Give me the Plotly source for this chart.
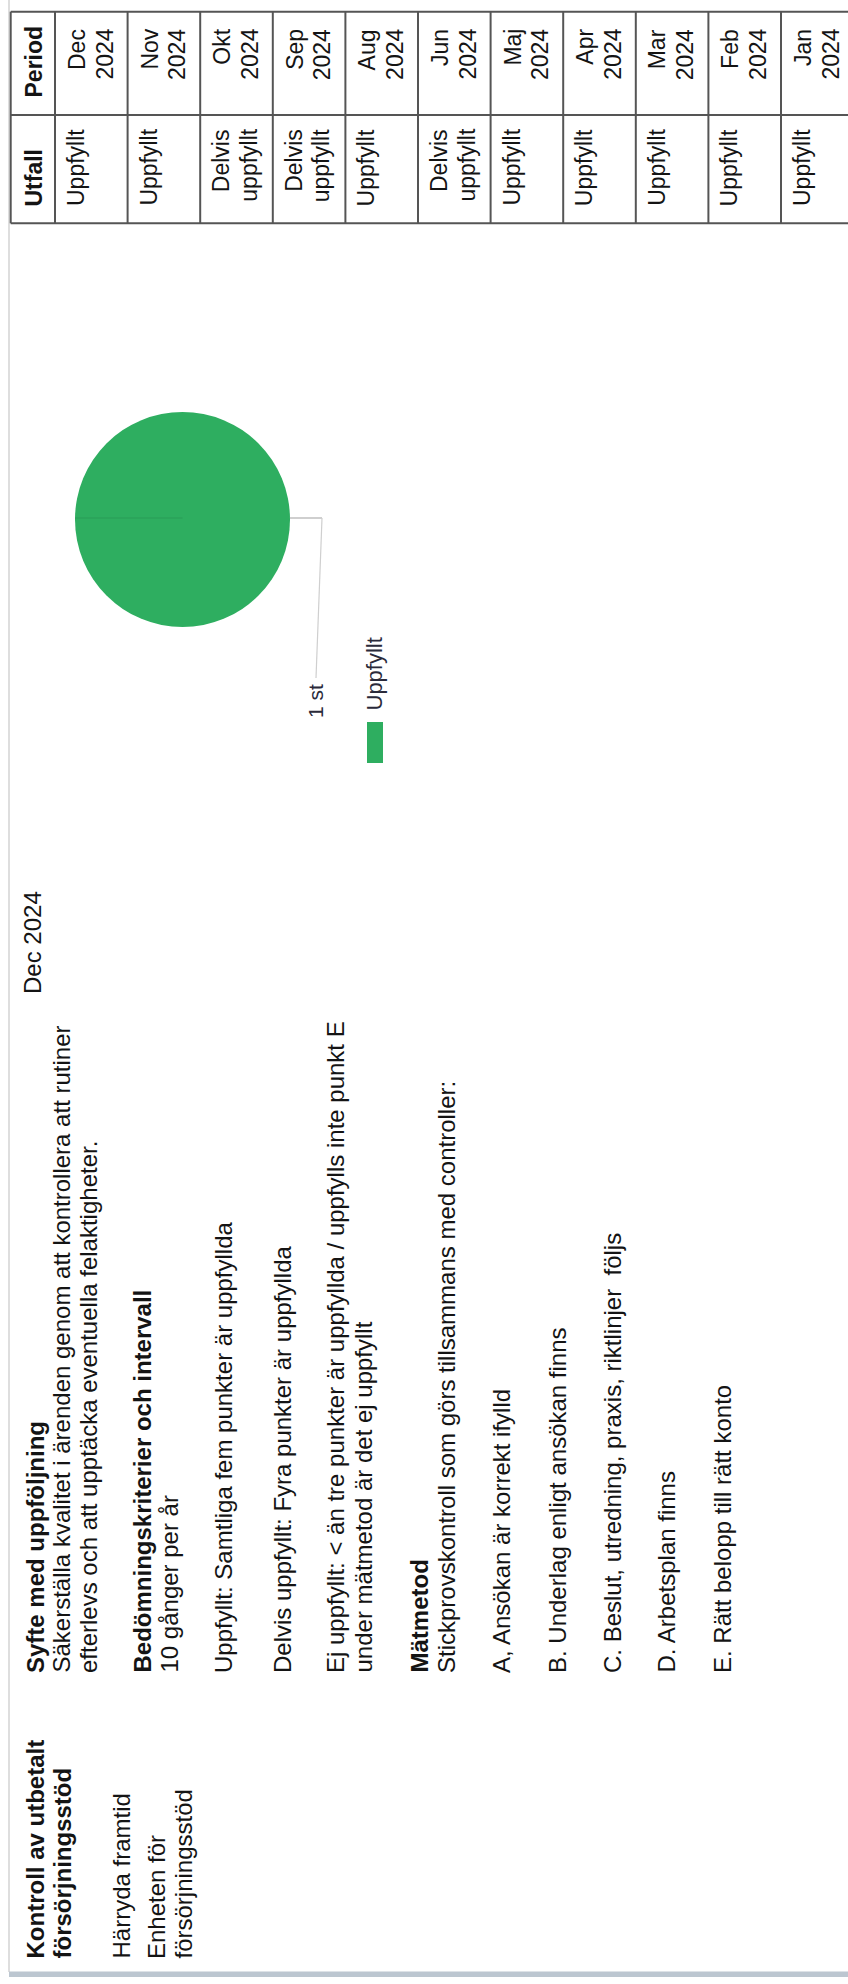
import plotly.graph_objects as go

# ---- data -------------------------------------------------------------
title_lines = ["Kontroll av utbetalt", "försörjningsstöd"]
org_lines = ["Härryda framtid", "Enheten för", "försörjningsstöd"]

# (text, bold) for the description column
desc_lines = [
    ("Syfte med uppföljning", True),
    ("Säkerställa kvalitet i ärenden genom att kontrollera att rutiner", False),
    ("efterlevs och att upptäcka eventuella felaktigheter.", False),
    ("Bedömningskriterier och intervall", True),
    ("10 gånger per år", False),
    ("Uppfyllt: Samtliga fem punkter är uppfyllda", False),
    ("Delvis uppfyllt: Fyra punkter är uppfyllda", False),
    ("Ej uppfyllt: &lt; än tre punkter är uppfyllda / uppfylls inte punkt E", False),
    ("under mätmetod är det ej uppfyllt", False),
    ("Mätmetod", True),
    ("Stickprovskontroll som görs tillsammans med controller:", False),
    ("A, Ansökan är korrekt ifylld", False),
    ("B. Underlag enligt ansökan finns", False),
    ("C. Beslut, utredning, praxis, riktlinjer\u00a0 följs", False),
    ("D. Arbetsplan finns", False),
    ("E. Rätt belopp till rätt konto", False),
]

chart_period = "Dec 2024"
pie_labels = ["Uppfyllt"]
pie_values = [1]
pie_colors = ["#2eae60"]
unit = "st"

periods = ["Dec 2024", "Nov 2024", "Okt 2024", "Sep 2024", "Aug 2024",
           "Jun 2024", "Maj 2024", "Apr 2024", "Mar 2024", "Feb 2024",
           "Jan 2024"]
outcomes = ["Uppfyllt", "Uppfyllt", "Delvis uppfyllt", "Delvis uppfyllt",
            "Uppfyllt", "Delvis uppfyllt", "Uppfyllt", "Uppfyllt",
            "Uppfyllt", "Uppfyllt", "Uppfyllt"]
table_headers = ["Utfall", "Period"]

# ---- page geometry (pixels, page is drawn turned a quarter turn) ------
W, H = 848, 1984
FONT = "Liberation Sans, Arial, Helvetica, sans-serif"
INK = "#141414"


def px(x):
    return x / W


def py(y):
    return 1 - y / H


annotations = []
shapes = []


def vtext(text, cx, y, anchor="bottom", size=24, bold=False, color=INK):
    if bold:
        text = "<b>" + text + "</b>"
    annotations.append(dict(
        text=text, x=px(cx), y=py(y), xref="paper", yref="paper",
        xanchor="center", yanchor=anchor, textangle=-90, showarrow=False,
        borderpad=0, font=dict(family=FONT, size=size, color=color)))


def line(x0, y0, x1, y1, color, width):
    shapes.append(dict(type="line", xref="paper", yref="paper",
                       x0=px(x0), y0=py(y0), x1=px(x1), y1=py(y1),
                       line=dict(color=color, width=width)))


# page frame: light rule on the left, steel band at the bottom
line(9, 0, 9, 1972, "#dedede", 2)
shapes.append(dict(type="rect", xref="paper", yref="paper",
                   x0=px(9), x1=px(W), y0=py(1977), y1=py(1971.5),
                   fillcolor="#bcc6d0", line=dict(width=0)))

# title column
for cx, t in zip([35, 62], title_lines):
    vtext(t, cx, 1960, bold=True)
for cx, t in zip([121, 156, 183], org_lines):
    vtext(t, cx, 1960)

# description column
desc_x = [35, 61, 88, 142, 169, 223, 282, 335, 363, 419, 446,
          501, 557, 612, 666, 722]
for cx, (t, b) in zip(desc_x, desc_lines):
    vtext(t, cx, 1674, bold=b)

# period heading of the chart area
vtext(chart_period, 32.5, 995)

# ---- pie --------------------------------------------------------------
pie_cx, pie_cy, pie_r = 182.5, 519.5, 107.5
fig = go.Figure(go.Pie(
    labels=pie_labels, values=pie_values, sort=False,
    marker=dict(colors=pie_colors, line=dict(width=0)),
    textinfo="none", hoverinfo="skip", showlegend=False,
    domain=dict(x=[px(pie_cx - pie_r), px(pie_cx + pie_r)],
                y=[py(pie_cy + pie_r), py(pie_cy - pie_r)]),
))

# slice seam and outside label leader
line(pie_cx - pie_r, 518, pie_cx, 518, "rgba(0,0,0,0.10)", 1)
line(pie_cx + pie_r, 518, 322, 518, "#cfcfcf", 2)
line(322, 518, 316, 678, "#cfcfcf", 1.2)
vtext(f"{pie_values[0]} {unit}", 315, 719, size=21, color="#2a2a3a")

# legend: swatch and label
shapes.append(dict(type="rect", xref="paper", yref="paper",
                   x0=px(367), x1=px(383), y0=py(763), y1=py(722),
                   fillcolor=pie_colors[0], line=dict(width=0)))
vtext(pie_labels[0], 374, 712, size=22, color="#2a2a3a")

# ---- table ------------------------------------------------------------
t_left, t_top, t_mid, t_bot = 10.7, 11.7, 115, 223.3
hdr_right = 55
row_w = 72.6
border = "#555555"

for yy in (t_top, t_mid, t_bot):
    line(t_left, yy, W, yy, border, 2)
line(t_left, t_top, t_left, t_bot, border, 2)
for i in range(len(periods) + 1):
    xx = hdr_right + i * row_w
    if xx < W:
        line(xx, t_top, xx, t_bot, border, 2)

# headers
vtext(table_headers[1], 33.5, 99, size=23, bold=True)
vtext(table_headers[0], 33.5, 208, size=23, bold=True)

for i, (p, o) in enumerate(zip(periods, outcomes)):
    left = hdr_right + i * row_w
    for k, part in enumerate(p.split(" ")):
        vtext(part, left + 21.5 + 27.5 * k, 28, anchor="top", size=23)
    for k, part in enumerate(o.split(" ")):
        vtext(part, left + 21.5 + 27.5 * k, 128, anchor="top", size=23)

fig.update_layout(
    width=W, height=H, autosize=False,
    margin=dict(l=0, r=0, t=0, b=0),
    paper_bgcolor="white", plot_bgcolor="white",
    annotations=annotations, shapes=shapes,
    showlegend=False,
)

fig.write_html("out.html", config={"displayModeBar": False})
